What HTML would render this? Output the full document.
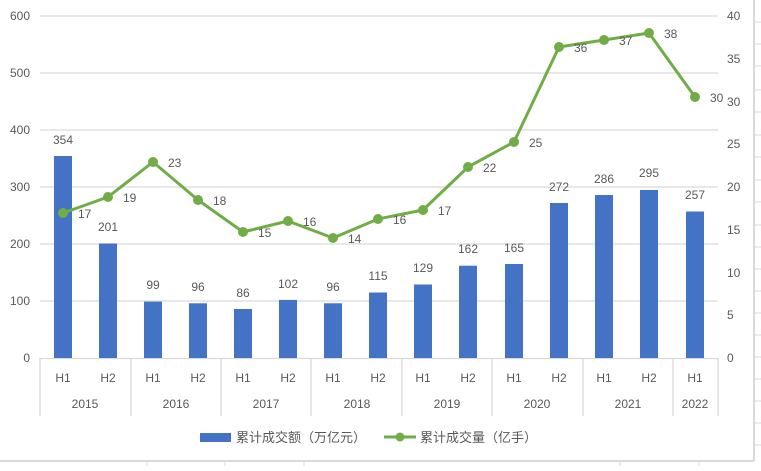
<!DOCTYPE html>
<html><head><meta charset="utf-8"><style>
body{margin:0;background:#fff;}
text{font-family:"Liberation Sans","Noto Sans CJK SC",sans-serif;fill:#595959;font-size:12px;}
</style></head><body>
<svg width="761" height="466" xmlns="http://www.w3.org/2000/svg">
<rect x="0" y="0" width="761" height="466" fill="#fff"/>
<!-- frame -->
<line x1="754" y1="0" x2="754" y2="461" stroke="#d9d9d9" stroke-width="2"/>
<line x1="0" y1="461" x2="754" y2="461" stroke="#d9d9d9" stroke-width="2"/>
<g stroke="#d9d9d9">
<line x1="755" y1="22" x2="761" y2="22"/><line x1="755" y1="44" x2="761" y2="44"/><line x1="755" y1="66" x2="761" y2="66"/><line x1="755" y1="90" x2="761" y2="90"/><line x1="755" y1="112" x2="761" y2="112"/><line x1="755" y1="135" x2="761" y2="135"/><line x1="755" y1="157" x2="761" y2="157"/><line x1="755" y1="180" x2="761" y2="180"/><line x1="755" y1="202" x2="761" y2="202"/><line x1="755" y1="225" x2="761" y2="225"/><line x1="755" y1="247" x2="761" y2="247"/><line x1="755" y1="269" x2="761" y2="269"/><line x1="755" y1="291" x2="761" y2="291"/><line x1="755" y1="313" x2="761" y2="313"/><line x1="755" y1="335" x2="761" y2="335"/><line x1="755" y1="357" x2="761" y2="357"/><line x1="755" y1="379" x2="761" y2="379"/><line x1="755" y1="401" x2="761" y2="401"/><line x1="755" y1="423" x2="761" y2="423"/><line x1="755" y1="445" x2="761" y2="445"/>
<line x1="147" y1="462" x2="147" y2="466"/><line x1="225" y1="462" x2="225" y2="466"/><line x1="304" y1="462" x2="304" y2="466"/><line x1="620" y1="462" x2="620" y2="466"/><line x1="699" y1="462" x2="699" y2="466"/>
</g>
<!-- gridlines -->
<g stroke="#d9d9d9" stroke-width="1.3">
<line x1="40" y1="16" x2="718" y2="16"/><line x1="40" y1="73" x2="718" y2="73"/><line x1="40" y1="130" x2="718" y2="130"/><line x1="40" y1="187" x2="718" y2="187"/><line x1="40" y1="244" x2="718" y2="244"/><line x1="40" y1="301" x2="718" y2="301"/>
<line x1="40" y1="358.5" x2="718" y2="358.5"/>
<line x1="40" y1="358" x2="40" y2="416"/><line x1="131" y1="358" x2="131" y2="416"/><line x1="221" y1="358" x2="221" y2="416"/><line x1="311" y1="358" x2="311" y2="416"/><line x1="402" y1="358" x2="402" y2="416"/><line x1="492" y1="358" x2="492" y2="416"/><line x1="583" y1="358" x2="583" y2="416"/><line x1="673" y1="358" x2="673" y2="416"/><line x1="718" y1="358" x2="718" y2="416"/>
</g>
<!-- left axis -->
<g text-anchor="end">
<text x="30" y="20">600</text><text x="30" y="77">500</text><text x="30" y="134">400</text><text x="30" y="191">300</text><text x="30" y="248">200</text><text x="30" y="305">100</text><text x="30" y="362">0</text>
</g>
<!-- right axis -->
<g>
<text x="727" y="20">40</text><text x="727" y="63">35</text><text x="727" y="106">30</text><text x="727" y="148">25</text><text x="727" y="191">20</text><text x="727" y="234">15</text><text x="727" y="277">10</text><text x="727" y="319">5</text><text x="727" y="362">0</text>
</g>
<!-- bars -->
<g fill="#4472c4">
<rect x="54" y="156" width="18" height="202"/>
<rect x="99" y="243.5" width="18" height="114.5"/>
<rect x="144" y="301.6" width="18" height="56.4"/>
<rect x="189" y="303.3" width="18" height="54.7"/>
<rect x="234" y="309" width="18" height="49"/>
<rect x="279" y="299.9" width="18" height="58.1"/>
<rect x="324" y="303.3" width="18" height="54.7"/>
<rect x="369" y="292.5" width="18" height="65.5"/>
<rect x="414" y="284.5" width="18" height="73.5"/>
<rect x="459" y="265.7" width="18" height="92.3"/>
<rect x="505" y="264" width="18" height="94"/>
<rect x="550" y="203" width="18" height="155"/>
<rect x="595" y="195" width="18" height="163"/>
<rect x="640" y="190" width="18" height="168"/>
<rect x="686" y="211.5" width="18" height="146.5"/>
</g>
<g text-anchor="middle" fill="#404040">
<text x="63" y="144">354</text><text x="108" y="231">201</text><text x="153" y="289">99</text><text x="198" y="291">96</text><text x="243" y="297">86</text><text x="288" y="288">102</text><text x="333" y="291">96</text><text x="378" y="280">115</text><text x="423" y="272">129</text><text x="468" y="253">162</text><text x="514" y="252">165</text><text x="559" y="191">272</text><text x="604" y="183">286</text><text x="649" y="177">295</text><text x="695" y="199">257</text>
</g>
<!-- line -->
<polyline fill="none" stroke="#70ad47" stroke-width="3" stroke-linejoin="round" points="63,213 108,197 153,162 198,200 243,232 288,221 333,238 378,219 423,210 468,167 514,142 559,47 604,40 649,33 695,97"/>
<g fill="#70ad47">
<circle cx="63" cy="213" r="5"/><circle cx="108" cy="197" r="5"/><circle cx="153" cy="162" r="5"/><circle cx="198" cy="200" r="5"/><circle cx="243" cy="232" r="5"/><circle cx="288" cy="221" r="5"/><circle cx="333" cy="238" r="5"/><circle cx="378" cy="219" r="5"/><circle cx="423" cy="210" r="5"/><circle cx="468" cy="167" r="5"/><circle cx="514" cy="142" r="5"/><circle cx="559" cy="47" r="5"/><circle cx="604" cy="40" r="5"/><circle cx="649" cy="33" r="5"/><circle cx="695" cy="97" r="5"/>
</g>
<g fill="#404040">
<text x="78" y="218">17</text><text x="123" y="202">19</text><text x="168" y="167">23</text><text x="213" y="205">18</text><text x="258" y="237">15</text><text x="303" y="226">16</text><text x="348" y="243">14</text><text x="393" y="224">16</text><text x="438" y="215">17</text><text x="483" y="172">22</text><text x="529" y="147">25</text><text x="574" y="52">36</text><text x="619" y="45">37</text><text x="664" y="38">38</text><text x="710" y="102">30</text>
</g>
<!-- category labels -->
<g text-anchor="middle">
<text x="63" y="382">H1</text><text x="108" y="382">H2</text><text x="153" y="382">H1</text><text x="198" y="382">H2</text><text x="243" y="382">H1</text><text x="288" y="382">H2</text><text x="333" y="382">H1</text><text x="378" y="382">H2</text><text x="423" y="382">H1</text><text x="468" y="382">H2</text><text x="514" y="382">H1</text><text x="559" y="382">H2</text><text x="604" y="382">H1</text><text x="649" y="382">H2</text><text x="695" y="382">H1</text>
<text x="85" y="408">2015</text><text x="176" y="408">2016</text><text x="266" y="408">2017</text><text x="357" y="408">2018</text><text x="447" y="408">2019</text><text x="537" y="408">2020</text><text x="628" y="408">2021</text><text x="695" y="408">2022</text>
</g>
<!-- legend -->
<rect x="200" y="433" width="31" height="9" fill="#4472c4"/>
<text x="236" y="442" style="font-size:13px">累计成交额（万亿元）</text>
<line x1="384" y1="437" x2="416" y2="437" stroke="#70ad47" stroke-width="3"/>
<circle cx="400" cy="437" r="4.5" fill="#70ad47"/>
<text x="420" y="442" style="font-size:13px">累计成交量（亿手）</text>
</svg>
</body></html>
